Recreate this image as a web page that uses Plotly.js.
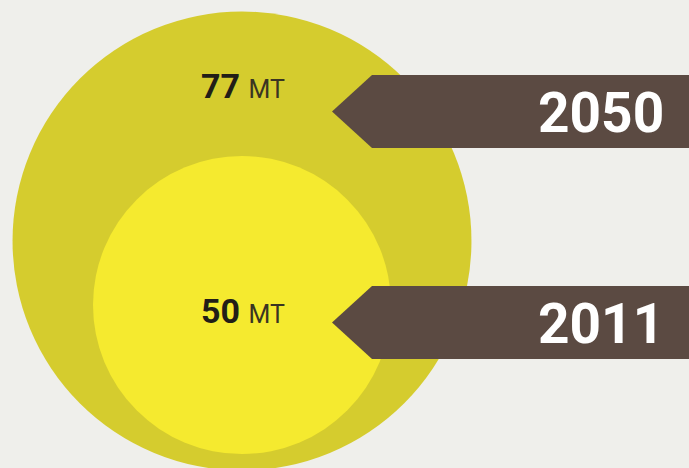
<!DOCTYPE html>
<html>
<head>
<meta charset="utf-8">
<script src="https://cdn.plot.ly/plotly-3.0.1.min.js"></script>
<style>html,body{margin:0;padding:0;background:#efefeb;}#chart{width:689px;height:468px;}</style>
</head>
<body>
<div id="chart"></div>
<script>
// ---- data ----
var years = ['2050', '2011'];
var values = [77, 50];
var unit = 'MT';

// ---- layout constants (pixel space) ----
var W = 689, H = 468;
var pxPerUnit = 2.98;           // radius in px per MT
var circleX = 242;
var circleY = [241, 305];       // centres of the bubbles
var labelY = [86, 311];         // value label centres
var arrowY = [111.5, 322.5];    // arrow centres
var arrowTipX = 332, arrowShoulderX = 372, arrowHalfH = 36.5;
var yearX = 601;
var bubbleColors = ['#d5cc2e', '#f5ea2f'];
var arrowColor = '#5b4a42';

var trace = {
  type: 'scatter', mode: 'markers',
  x: values.map(function(){ return circleX; }),
  y: circleY,
  marker: {
    size: values.map(function(v){ return 2 * v * pxPerUnit; }),
    sizemode: 'diameter',
    color: bubbleColors,
    opacity: 1,
    line: {width: 0}
  },
  hoverinfo: 'skip'
};

var shapes = years.map(function(y, i){
  var cy = arrowY[i];
  return {
    type: 'path', xref: 'x', yref: 'y', layer: 'above',
    path: 'M ' + arrowTipX + ',' + cy +
          ' L ' + arrowShoulderX + ',' + (cy - arrowHalfH) +
          ' L ' + (W + 5) + ',' + (cy - arrowHalfH) +
          ' L ' + (W + 5) + ',' + (cy + arrowHalfH) +
          ' L ' + arrowShoulderX + ',' + (cy + arrowHalfH) + ' Z',
    fillcolor: arrowColor, line: {width: 0}
  };
});

var annotations = [];
values.forEach(function(v, i){
  annotations.push({
    xref: 'x', yref: 'y', x: circleX + 1, y: labelY[i],
    xanchor: 'center', yanchor: 'middle', showarrow: false,
    text: '<b>' + v + '</b> <span style="font-size:25px;color:#3a3422;font-weight:normal">' + unit + '</span>',
    font: {family: 'Roboto, sans-serif', size: 34, color: '#221e17'}
  });
});
years.forEach(function(y, i){
  annotations.push({
    xref: 'x', yref: 'y', x: yearX, y: arrowY[i] + 1,
    xanchor: 'center', yanchor: 'middle', showarrow: false,
    text: '<b>' + y + '</b>',
    font: {family: 'Roboto, sans-serif', size: 55, color: '#ffffff'}
  });
});

var layout = {
  width: W, height: H,
  margin: {l: 0, r: 0, t: 0, b: 0},
  paper_bgcolor: '#efefeb', plot_bgcolor: '#efefeb',
  xaxis: {range: [0, W], visible: false, fixedrange: true},
  yaxis: {range: [H, 0], visible: false, fixedrange: true},
  showlegend: false,
  shapes: shapes,
  annotations: annotations
};

Plotly.newPlot('chart', [trace], layout, {displayModeBar: false, staticPlot: true});
</script>
</body>
</html>
